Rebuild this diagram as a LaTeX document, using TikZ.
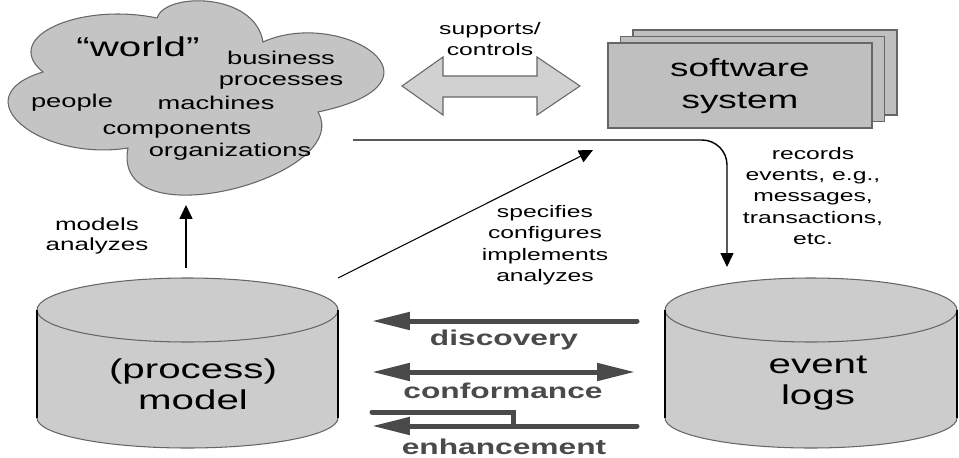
\documentclass[tikz,border=0pt]{standalone}
\usepackage{fontspec}
\setmainfont[FakeStretch=1.48]{Liberation Sans}
\usetikzlibrary{arrows.meta}
\definecolor{cloudgray}{gray}{0.77}
\definecolor{boxgray}{gray}{0.75}
\definecolor{arrgray}{gray}{0.82}
\definecolor{cylgray}{gray}{0.80}
\definecolor{edgegray}{gray}{0.40}
\definecolor{opgray}{gray}{0.29}
\tikzset{
	smalltxt/.style={font=\fontsize{9.5}{12.2}\selectfont, align=center},
	cloudtxt/.style={font=\fontsize{10.5}{12}\selectfont, anchor=base},
	bigtxt/.style={font=\fontsize{15.5}{17.5}\selectfont, align=center},
	opline/.style={line width=0.1cm, opgray, line cap=round},
	optxt/.style={font=\bfseries\fontsize{12.2}{14}\selectfont, text=opgray},
	thinhead/.style={-{Triangle[length=0.28cm, width=0.26cm]}},
	fathead/.style={{Triangle[length=0.76cm, width=0.34cm]}-},
	fatheads/.style={{Triangle[length=0.76cm, width=0.34cm]}-{Triangle[length=0.76cm, width=0.34cm]}},
}
\begin{document}
\begin{tikzpicture}[x=0.02cm, y=0.02cm, line width=0.6pt]
	\useasboundingbox (0,0) rectangle (959,457);

	\draw [fill=cloudgray, draw=edgegray] (43,385) .. controls (0,420) and (80,455) .. (157,439)
		.. controls (165,465) and (255,465) .. (263,415)
		.. controls (340,450) and (460,375) .. (318,345)
		.. controls (355,280) and (110,215) .. (128,309)
		.. controls (40,295) and (-40,360) .. (43,385) -- cycle;
	\node [bigtxt, anchor=base] (world) at (138,400) {“world”};
	\node [cloudtxt] (business) at (281,392) {business};
	\node [cloudtxt] (processes) at (281,371) {processes};
	\node [cloudtxt] (people) at (72,349) {people};
	\node [cloudtxt] (machines) at (216,347) {machines};
	\node [cloudtxt] (components) at (177,322) {components};
	\node [cloudtxt] (organizations) at (230,300) {organizations};

	\foreach \d in {2,1,0}
	{
		\draw [fill=boxgray, draw=edgegray] (608+12.5*\d,329+6.5*\d) rectangle ++(264,85);
	}
	\node [font=\fontsize{14.2}{18}\selectfont, align=center] (sw) at (740,371) {software\\system};

	\draw [fill=arrgray, draw=edgegray] (402,371) -- (443,400) -- (443,381) -- (537,381) -- (537,400)
		-- (580,371) -- (537,342) -- (537,360) -- (443,360) -- (443,342) -- cycle;
	\node [smalltxt] (supports) at (490,418) {supports/\\controls};

	\foreach \cx/\rx in {187.5/150.5, 811/146}
	{
		\fill [cylgray] (\cx-\rx,147) -- (\cx-\rx,39) arc [start angle=180, end angle=360, x radius=\rx, y radius=30]
			-- (\cx+\rx,147) arc [start angle=0, end angle=180, x radius=\rx, y radius=32] -- cycle;
		\draw [edgegray] (\cx-\rx,39) arc [start angle=180, end angle=360, x radius=\rx, y radius=30];
		\draw [edgegray] (\cx,147) ellipse [x radius=\rx, y radius=32];
		\draw [line width=1.3pt] (\cx-\rx,147) -- (\cx-\rx,39) (\cx+\rx,147) -- (\cx+\rx,39);
	}
	\node [bigtxt] (model) at (193,73) {(process)\\model};
	\node [bigtxt] (logs) at (818,74) {event\\logs};

	\coordinate (modeltop) at (186,189);
	\coordinate (worldbot) at (186,252);
	\coordinate (modelcorner) at (338,179);
	\coordinate (specend) at (593,307);
	\coordinate (worldright) at (353,317);
	\coordinate (logstop) at (727,190);

	\draw [thinhead, line width=0.9pt] (modeltop) -- (worldbot);
	\draw [thinhead] (modelcorner) -- (specend);
	\draw [thinhead, line width=0.8pt, rounded corners=0.5cm] (worldright) -| (logstop);

	\node [cloudtxt, font=\fontsize{10}{11.5}\selectfont, anchor=center, align=center] (models) at (97,221) {models\\analyzes};
	\node [smalltxt] (specifies) at (545,212) {specifies\\configures\\implements\\analyzes};
	\node [smalltxt] (records) at (813,261) {records\\events, e.g.,\\messages,\\transactions,\\etc.};

	\coordinate (discL) at (372,136);
	\coordinate (discR) at (637,136);
	\coordinate (confL) at (372,85);
	\coordinate (confR) at (635,85);
	\coordinate (enhL) at (372,31);
	\coordinate (enhR) at (637,31);
	\coordinate (enhT) at (372,45);
	\coordinate (enhS) at (513,45);

	\draw [opline, fathead] (discL) -- (discR);
	\draw [opline, fatheads] (confL) -- (confR);
	\draw [opline, fathead] (enhL) -- (enhR);
	\draw [opline, line cap=butt] (enhT) -- (enhS) -- (enhS |- enhL);
	\draw [opline] (enhT) -- ++(1,0);

	\node [optxt] (discovery) at (504,117) {discovery};
	\node [optxt] (conformance) at (503,66) {conformance};
	\node [optxt] (enhancement) at (504,10) {enhancement};

\end{tikzpicture}
\end{document}
